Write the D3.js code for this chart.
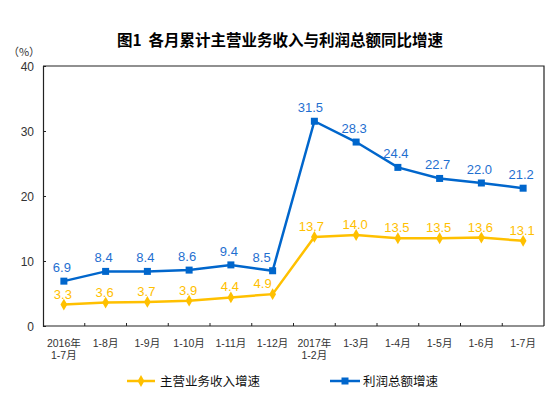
<!DOCTYPE html>
<html>
<head>
<meta charset="utf-8">
<script src="https://cdn.jsdelivr.net/npm/d3@7"></script>
<style>
  body { margin: 0; background: #fff; }
  text { font-family: "Liberation Sans", Arial, "Noto Sans CJK SC", sans-serif; }
</style>
</head>
<body>
<div id="main"></div>
<script>
// data
var categories = ["2016年\n1-7月", "1-8月", "1-9月", "1-10月", "1-11月", "1-12月",
  "2017年\n1-2月", "1-3月", "1-4月", "1-5月", "1-6月", "1-7月"];
var revenueGrowth = [3.3, 3.6, 3.7, 3.9, 4.4, 4.9, 13.7, 14.0, 13.5, 13.5, 13.6, 13.1];
var profitGrowth = [6.9, 8.4, 8.4, 8.6, 9.4, 8.5, 31.5, 28.3, 24.4, 22.7, 22.0, 21.2];
var yTicks = [0, 10, 20, 30, 40];
var seriesNames = ["主营业务收入增速", "利润总额增速"];

var width = 551, height = 397;
var plotLeft = 43, plotRight = 544, plotTop = 66, plotBottom = 326;
var yellow = "#FFC000", blue = "#0066CC";
var cjk = "\"Noto Sans CJK SC\", sans-serif";

// labels next to the steep rise sit a bit to the left
function labelShift(i) { return i === 5 ? -10 : (i === 6 ? -3 : -1); }

var svg = d3.select("#main").append("svg")
  .attr("width", width)
  .attr("height", height);

var x = d3.scaleBand().domain(d3.range(categories.length)).range([plotLeft, plotRight]);
var y = d3.scaleLinear().domain([0, 40]).range([plotBottom, plotTop]);

// title
svg.append("text")
  .attr("x", 280).attr("y", 46)
  .attr("text-anchor", "middle")
  .style("font-family", cjk)
  .style("font-size", "15.5px")
  .style("font-weight", "bold")
  .style("white-space", "pre")
  .text("图1  各月累计主营业务收入与利润总额同比增速");

svg.append("text")
  .attr("x", 24).attr("y", 56)
  .attr("text-anchor", "middle")
  .style("font-family", cjk)
  .style("font-size", "11px")
  .attr("fill", "#333")
  .text("（%）");

// frame (top + right)
svg.append("path")
  .attr("d", "M" + plotLeft + "," + plotTop + "H" + plotRight + "V" + plotBottom)
  .attr("fill", "none")
  .attr("stroke", "#222")
  .attr("stroke-width", 1.2);

// y axis
var yAxis = svg.append("g")
  .attr("transform", "translate(" + plotLeft + ",0)")
  .call(d3.axisRight(y).tickValues(yTicks).tickSize(3).tickFormat(d3.format("d")));
yAxis.select(".domain").attr("stroke", "#222").attr("stroke-width", 1.2);
yAxis.selectAll(".tick line").attr("stroke", "#222");
yAxis.selectAll(".tick text")
  .attr("x", -9).attr("dy", "0.35em")
  .attr("text-anchor", "end")
  .attr("fill", "#333")
  .style("font-size", "12px");

// x axis with ticks at band boundaries
var xAxis = svg.append("g")
  .attr("transform", "translate(0," + plotBottom + ")");
xAxis.append("line")
  .attr("x1", plotLeft).attr("x2", plotRight)
  .attr("stroke", "#222").attr("stroke-width", 1.2);
xAxis.selectAll(".tk")
  .data(d3.range(1, categories.length))
  .join("line")
  .attr("class", "tk")
  .attr("x1", function(d) { return x(d); })
  .attr("x2", function(d) { return x(d); })
  .attr("y1", 0).attr("y2", -3)
  .attr("stroke", "#222");
var xl = xAxis.selectAll(".lbl")
  .data(categories)
  .join("text")
  .attr("class", "lbl")
  .attr("text-anchor", "middle")
  .attr("fill", "#333")
  .style("font-size", "10.5px")
  .style("font-family", "\"Liberation Sans\", \"Noto Sans CJK SC\", sans-serif");
xl.each(function(d, i) {
  var t = d3.select(this);
  d.split("\n").forEach(function(s, j) {
    t.append("tspan")
      .attr("x", x(i) + x.bandwidth() / 2)
      .attr("y", 21 + j * 12)
      .text(s);
  });
});

function cx(i) { return x(i) + x.bandwidth() / 2; }

var line = d3.line()
  .x(function(d, i) { return cx(i); })
  .y(function(d) { return y(d); });

// revenue series
svg.append("path")
  .datum(revenueGrowth)
  .attr("d", line)
  .attr("fill", "none")
  .attr("stroke", yellow)
  .attr("stroke-width", 2.5);
svg.selectAll(".rev")
  .data(revenueGrowth)
  .join("path")
  .attr("class", "rev")
  .attr("d", d3.symbol(d3.symbolDiamond, 40))
  .attr("transform", function(d, i) { return "translate(" + cx(i) + "," + y(d) + ")"; })
  .attr("fill", yellow);
svg.selectAll(".revl")
  .data(revenueGrowth)
  .join("text")
  .attr("class", "revl")
  .attr("x", function(d, i) { return cx(i) + labelShift(i); })
  .attr("y", function(d) { return y(d) - 6; })
  .attr("text-anchor", "middle")
  .attr("fill", yellow)
  .style("font-size", "13px")
  .text(function(d) { return d.toFixed(1); });

// profit series
svg.append("path")
  .datum(profitGrowth)
  .attr("d", line)
  .attr("fill", "none")
  .attr("stroke", blue)
  .attr("stroke-width", 2.5);
svg.selectAll(".pro")
  .data(profitGrowth)
  .join("rect")
  .attr("class", "pro")
  .attr("x", function(d, i) { return cx(i) - 3.5; })
  .attr("y", function(d) { return y(d) - 3.5; })
  .attr("width", 7).attr("height", 7)
  .attr("fill", blue);
svg.selectAll(".prol")
  .data(profitGrowth)
  .join("text")
  .attr("class", "prol")
  .attr("x", function(d, i) { return cx(i) + labelShift(i) - 1; })
  .attr("y", function(d) { return y(d) - 9; })
  .attr("text-anchor", "middle")
  .attr("fill", "#1F6FD0")
  .style("font-size", "13px")
  .text(function(d) { return d.toFixed(1); });

// legend
var legend = svg.append("g");
legend.append("line")
  .attr("x1", 127).attr("x2", 155).attr("y1", 381).attr("y2", 381)
  .attr("stroke", yellow).attr("stroke-width", 2.5);
legend.append("path")
  .attr("d", d3.symbol(d3.symbolDiamond, 40))
  .attr("transform", "translate(141,381)")
  .attr("fill", yellow);
legend.append("text")
  .attr("x", 160).attr("y", 386)
  .style("font-family", cjk).style("font-size", "12.5px")
  .attr("fill", "#111")
  .text(seriesNames[0]);
legend.append("line")
  .attr("x1", 330).attr("x2", 360).attr("y1", 381).attr("y2", 381)
  .attr("stroke", blue).attr("stroke-width", 2.5);
legend.append("rect")
  .attr("x", 341.5).attr("y", 377.5).attr("width", 7).attr("height", 7)
  .attr("fill", blue);
legend.append("text")
  .attr("x", 363).attr("y", 386)
  .style("font-family", cjk).style("font-size", "12.5px")
  .attr("fill", "#111")
  .text(seriesNames[1]);
</script>
</body>
</html>
